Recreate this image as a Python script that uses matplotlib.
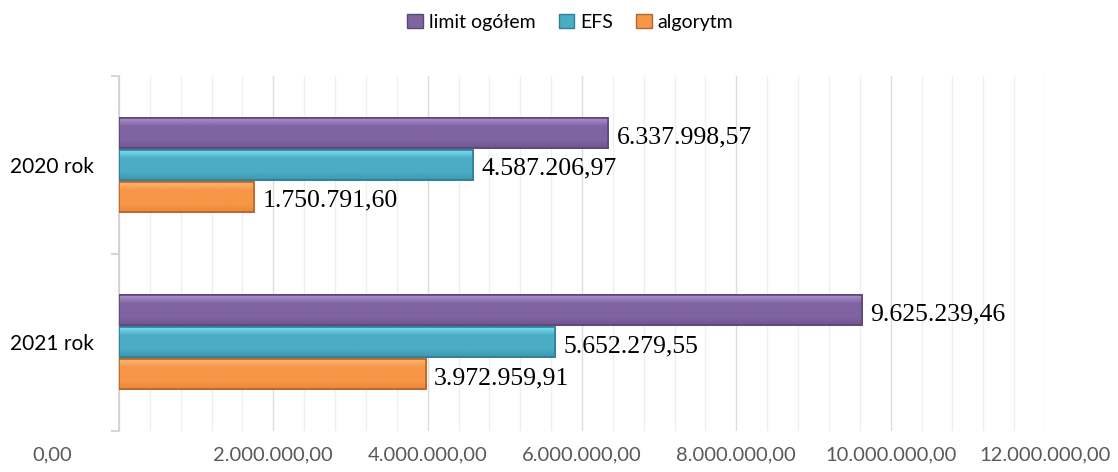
import matplotlib
matplotlib.use("Agg")
import matplotlib.pyplot as plt
import matplotlib.transforms as mtransforms
from matplotlib.colors import LinearSegmentedColormap
from matplotlib.patches import Patch
import numpy as np

categories = ["2020 rok", "2021 rok"]
series_names = ["limit ogółem", "EFS", "algorytm"]
limit_ogolem = [6337998.57, 9625239.46]
efs = [4587206.97, 5652279.55]
algorytm = [1750791.60, 3972959.91]
x_ticks = [0, 2e6, 4e6, 6e6, 8e6, 10e6, 12e6]

colors = ["#8064A2", "#4BACC6", "#F79646"]
edges = ["#5c4677", "#2f7f95", "#b8652a"]
lights = ["#b096d2", "#80e4fa", "#fdbb7a"]
darks = ["#6e5590", "#3f97ae", "#e88838"]


def fmt_pl(v):
    # polish style: dot thousands, comma decimals
    s = f"{v:,.2f}"
    return s.replace(",", " ").replace(".", ",").replace(" ", ".")


fig = plt.figure(figsize=(11.18, 4.72), dpi=100)
ax = fig.add_axes([119 / 1118, 1 - 431 / 472, (1045 - 119) / 1118, (431 - 76) / 472])

y = np.arange(len(categories))
h = 0.17
offs = [-0.18, 0.0, 0.18]
grad = np.linspace(0, 1, 64).reshape(-1, 1)
for vals, off, c, ec, lc, dc in zip([limit_ogolem, efs, algorytm], offs, colors, edges, lights, darks):
    bars = ax.barh(y + off, vals, height=h, color=c, edgecolor=ec, linewidth=1.2, zorder=3)
    cmap = LinearSegmentedColormap.from_list("bev", [(0, lc), (0.3, c), (0.75, c), (1, dc)])
    for b in bars:
        x0, y0 = b.get_x(), b.get_y()
        im = ax.imshow(grad, cmap=cmap, aspect="auto", zorder=3.5,
                       extent=(x0, x0 + b.get_width(), y0 + b.get_height(), y0))
        im.set_clip_path(b)
    # redraw the outline above the gradient
    ax.barh(y + off, vals, height=h, facecolor="none", edgecolor=ec, linewidth=1.2, zorder=4)
    for yi, v in zip(y, vals):
        ax.annotate(fmt_pl(v), (v, yi + off), xytext=(6, -3), textcoords="offset points",
                    va="center", ha="left", fontsize=18.5, family="Liberation Serif",
                    color="black", zorder=5)

ax.set_xlim(0, 12e6)
ax.set_ylim(1.5, -0.5)
ax.set_xticks(x_ticks)
ax.set_xticklabels([fmt_pl(t) for t in x_ticks], family="Lato", fontsize=14.5, color="#595959")
ax.set_xticks(np.arange(0, 12e6 + 1, 4e5), minor=True)
ax.tick_params(axis="x", which="both", length=0, pad=11)
ax.grid(axis="x", which="minor", color="#efefef", linewidth=1, zorder=0)
ax.grid(axis="x", which="major", color="#dcdcdc", linewidth=1, zorder=0)

ax.set_yticks(y)
ax.set_yticklabels(categories, family="Lato", fontsize=15, color="black")
ax.set_yticks([-0.5, 0.5, 1.5], minor=True)
ax.tick_params(axis="y", which="major", length=0, pad=18)
ax.tick_params(axis="y", which="minor", length=6, color="#d0d0d0", width=1.2)

for side in ["top", "right", "bottom"]:
    ax.spines[side].set_visible(False)
ax.spines["left"].set_color("#d0d0d0")
ax.spines["left"].set_linewidth(1.2)

# the "0,00" label sits well left of the axis in the original
lbl0 = ax.get_xticklabels()[0]
lbl0.set_transform(lbl0.get_transform() + mtransforms.ScaledTranslation(-0.67, 0, fig.dpi_scale_trans))

handles = [Patch(facecolor=c, edgecolor=ec, linewidth=1) for c, ec in zip(colors, edges)]
fig.legend(handles, series_names, loc="center", bbox_to_anchor=(0.51, 0.953), ncol=3,
           frameon=False, prop={"family": "Lato", "size": 14}, handlelength=0.8,
           handleheight=0.8, handletextpad=0.3, columnspacing=1.2)

fig.savefig("out.png", dpi=100)
